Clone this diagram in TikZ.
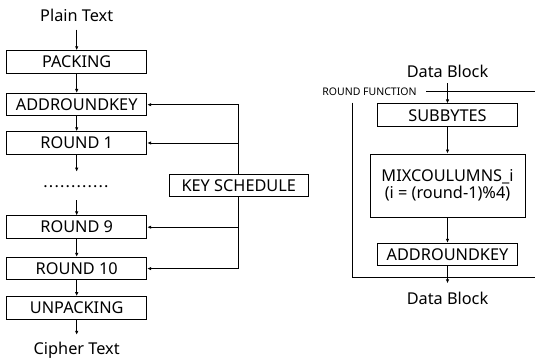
\documentclass[tikz,border=0pt]{standalone}
\usepackage{fontspec}
\setmainfont{Noto Sans}
\usetikzlibrary{arrows.meta}
\tikzset{
  every picture/.style={x=1pt,y=-1pt},
  box/.style={draw,line width=1pt,inner sep=0pt,minimum width=140pt,minimum height=22.5pt,
    font=\fontsize{16.3}{18}\selectfont,text height=11.5pt,text depth=0pt},
  lbl/.style={inner sep=0pt,font=\fontsize{16.3}{18}\selectfont,text height=11.5pt,text depth=0pt},
  small/.style={inner sep=0pt,font=\fontsize{10.5}{12}\selectfont,text height=7.5pt,text depth=0pt},
  conn/.style={line width=1pt},
  arr/.style={line width=1pt,-{Latex[length=4pt,width=3.5pt]}}
}
\begin{document}
\begin{tikzpicture}
\useasboundingbox (0,0) rectangle (535,359);
% left column
\node[lbl,minimum height=26.6pt] (pt) at (76.7,16) {Plain Text};
\node[box] (pack) at (76.7,62) {PACKING};
\node[box] (ark) at (76.7,104.7) {ADDROUNDKEY};
\node[box] (r1) at (76.7,143) {ROUND 1};
\coordinate (d1) at (76.7,171.7);
\node[lbl,anchor=base] (dots) at (76,187) {.\kern1.15pt.\kern1.15pt.\kern1.15pt.\kern1.15pt.\kern1.15pt.\kern1.15pt.\kern1.15pt.\kern1.15pt.\kern1.15pt.\kern1.15pt.\kern1.15pt.};
\coordinate (d2) at (76.7,200);
\node[box] (r9) at (76.7,227.2) {ROUND 9};
\node[box] (r10) at (76.7,268.6) {ROUND 10};
\node[box] (unp) at (76.7,307.9) {UNPACKING};
\node[lbl,anchor=base,text depth=3pt] (ct) at (76.7,354.3) {Cipher Text};
\draw[arr] (pt) -- (pack);
\draw[arr] (pack) -- (ark);
\draw[arr] (ark) -- (r1);
\draw[arr] (r1) -- (d1);
\draw[arr] (d2) -- (r9);
\draw[arr] (r9) -- (r10);
\draw[arr] (r10) -- (unp);
\draw[arr,shorten >=7.8pt] (unp) -- (ct);
% key schedule
\node[box,minimum width=139pt,minimum height=21.7pt] (ks) at (238.8,185.8) {KEY SCHEDULE};
\draw[arr] (ks.north) |- (ark.east);
\draw[arr] (ks.north) |- (r1.east);
\draw[arr] (ks.south) |- (r9.east);
\draw[arr] (ks.south) |- (r10.east);
% right column
\node[lbl,minimum height=23pt] (db1) at (447.5,71.7) {Data Block};
\node[small] (rf) at (369.5,91.5) {ROUND FUNCTION};
\coordinate (frTR) at (535,91);
\coordinate (frTL) at (352.5,102.7);
\coordinate (frBL) at (352.5,277.5);
\coordinate (frBR) at (535,277.5);
\node[box,minimum width=140.4pt,minimum height=22.7pt] (sb) at (447.5,115.3) {SUBBYTES};
\node[box,minimum width=155pt,minimum height=63pt,align=center,text height=,text depth=] (mix) at (447.5,185.5)
  {MIXCOULUMNS\_i\\[-1pt](i = (round-1)\%4)};
\node[box,minimum width=140.4pt,minimum height=22.4pt] (ark2) at (447.5,254.5) {ADDROUNDKEY};
\node[lbl,minimum height=31pt] (db2) at (447.5,299) {Data Block};
\draw[conn] ([xshift=9.5pt]rf.east |- frTR) -- (frTR);
\draw[conn] (frTL) -- (frBL) -- (frBR);
\draw[arr] (db1) -- (sb);
\draw[arr] (sb) -- (mix);
\draw[arr] (mix) -- (ark2);
\draw[arr] (ark2) -- (db2);
\end{tikzpicture}
\end{document}
